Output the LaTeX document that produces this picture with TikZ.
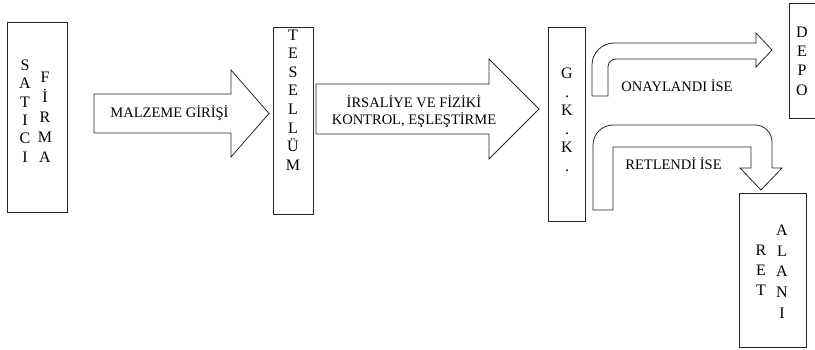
\documentclass[tikz,border=0pt]{standalone}
\usepackage{fontspec}
\setmainfont{Liberation Serif}
\begin{document}
\begin{tikzpicture}[x=1pt,y=-1pt,
  line width=0.8pt,
  outline/.style={draw=black!85, line join=miter},
  box/.style={draw=black!85, inner sep=0pt},
  vcol/.style={align=center, inner sep=0pt, font=\fontsize{16}{#1}\selectfont},
  label/.style={align=center, inner sep=0pt, font=\fontsize{14.5}{17}\selectfont}]
\useasboundingbox (0,0) rectangle (815,350);

% boxes
\node[box, minimum width=60pt, minimum height=190pt] (satici) at (37,117) {};
\node[box, minimum width=40pt, minimum height=187pt] (tesellum) at (293,120.5) {};
\node[box, minimum width=37pt, minimum height=194pt] (gkk) at (566.5,124) {};
\node[box, minimum width=67pt, minimum height=154pt] (ret) at (772.5,270) {};
\draw[draw=black!85] (822,3) -- (789,3) -- (789,118) -- (822,118);
\coordinate (depo) at (802,61);

% vertical captions
\node[vcol=18.4] (sa) at (25,111) {S\\A\\T\\I\\C\\I};
\node[vcol=20] (fi) at (45,117) {F\\İ\\R\\M\\A};
\node[vcol=18.6] (te) at (tesellum.center |- 0,100) {T\\E\\S\\E\\L\\L\\Ü\\M};
\node[vcol=18.5] (gk) at (567,120) {G\\.\\K\\.\\K\\.};
\node[vcol=19.3] (de) at (depo) {D\\E\\P\\O};
\node[vcol=20] (re) at (761,270) {R\\E\\T};
\node[vcol=20.7] (al) at (782,271.5) {A\\L\\A\\N\\I};

% straight block arrows
\draw[outline] (94,94) -- (231,94) -- (231,70) -- (269,113.5) -- (231,157)
  -- (231,133) -- (94,133) -- cycle;
\node[label] (malzeme) at (169.5,113) {MALZEME GİRİŞİ};

\draw[outline] (316,84) -- (489,84) -- (489,59) -- (539,109) -- (489,159)
  -- (489,134) -- (316,134) -- cycle;
\node[label] (irsaliye) at (414,111.5) {İRSALİYE VE FİZİKİ\\KONTROL, EŞLEŞTİRME};

% bent arrow to the store
\draw[outline] (592,96) -- (592,65) .. controls (592,52.9) and (601.9,43) .. (614,43)
  -- (756,43) -- (756,33) -- (772,50) -- (756,67) -- (756,59) -- (616,59)
  .. controls (611.6,59) and (608,62.6) .. (608,67) -- (608,96) -- cycle;
\node[label] (onay) at (677,86) {ONAYLANDI İSE};

% bent arrow to the rejection area
\draw[outline] (593,210) -- (593,145) .. controls (593,134) and (602,125) .. (613,125)
  -- (755,125) .. controls (764.4,125) and (772,132.6) .. (772,142)
  -- (772,168) -- (782,168) -- (761,190) -- (740,168) -- (751,168)
  -- (751,147) -- (613,147) -- (613,210) -- cycle;
\node[label] (retlendi) at (673.5,164) {RETLENDİ İSE};
\end{tikzpicture}
\end{document}
